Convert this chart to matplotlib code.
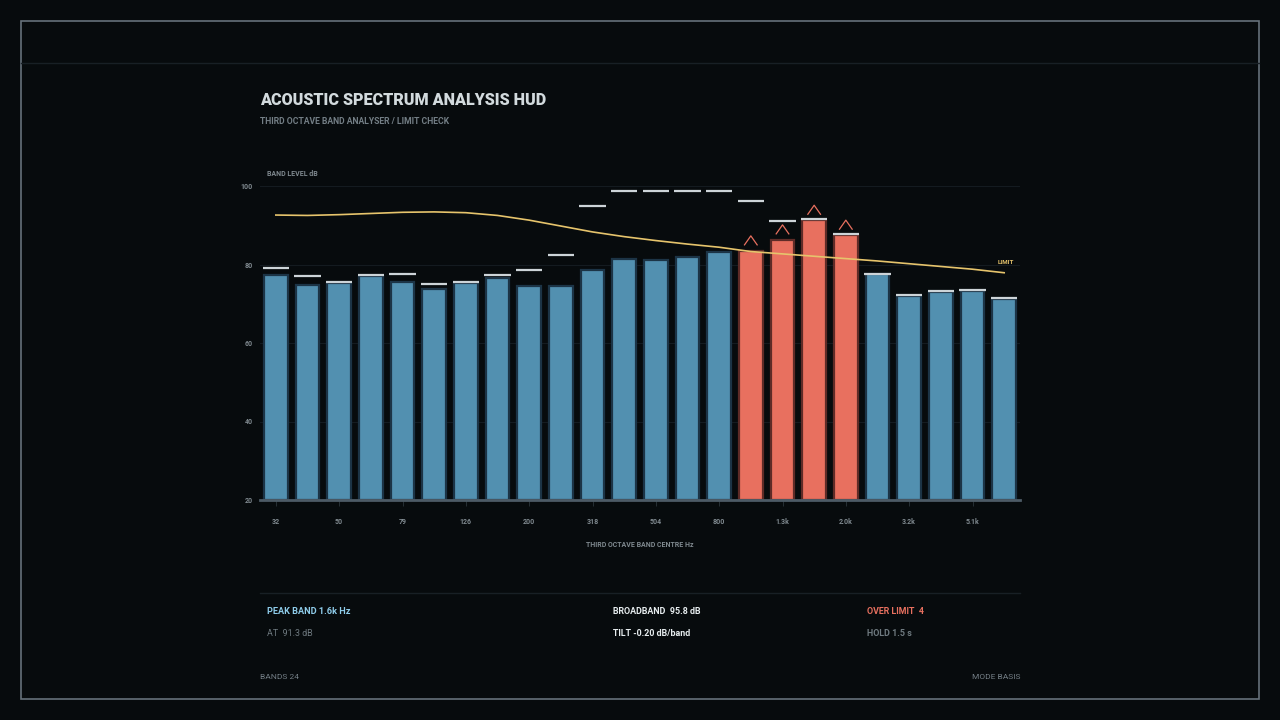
import numpy as np
import matplotlib.pyplot as plt
from matplotlib.patches import Rectangle
from matplotlib.lines import Line2D

# third octave bands
bands = ["32", "40", "50", "63", "79", "100", "126", "159", "200", "252", "318", "400",
         "504", "635", "800", "1.0k", "1.3k", "1.6k", "2.0k", "2.5k", "3.2k", "4.0k", "5.1k", "6.4k"]
levels = [77.2, 74.7, 75.3, 77.0, 75.6, 73.7, 75.4, 76.5, 74.5, 74.5, 78.6, 81.3,
          81.2, 81.8, 83.1, 83.5, 86.3, 91.3, 87.5, 77.5, 72.1, 73.0, 73.3, 71.1]
holds = [79.1, 77.0, 75.6, 77.3, 77.6, 75.0, 75.6, 77.3, 78.7, 82.5, 95.0, 98.8,
         98.8, 98.8, 98.8, 96.2, 91.2, 91.5, 87.8, 77.7, 72.3, 73.2, 73.5, 71.4]
limit = [92.6, 92.5, 92.7, 93.0, 93.3, 93.4, 93.2, 92.5, 91.3, 89.8, 88.3, 87.1,
         86.1, 85.2, 84.4, 83.3, 82.7, 82.1, 81.5, 80.9, 80.2, 79.5, 78.8, 77.9]
y_ticks = [20, 40, 60, 80, 100]

BG = "#070b0d"
BLUE = "#5290b0"
BLUE_EDGE = "#1c3446"
RED = "#e8705f"
RED_EDGE = "#5e2b27"
GOLD = "#e6c46c"
GRAY = "#808a90"
LIGHT = "#d2dadd"
FONT = ["Roboto", "DejaVu Sans"]

W, H = 1280, 720
fig = plt.figure(figsize=(12.8, 7.2), dpi=100, facecolor=BG)


def px(x, y):
    return x / W, 1 - y / H


def label(x, y, s, size=6, color=GRAY, ha="left", weight="bold"):
    fig.text(*px(x, y), s, fontsize=size, color=color, ha=ha, va="center",
             fontweight=weight, family=FONT)


# outer HUD frame
fig.add_artist(Rectangle(px(21, 699), 1238 / W, 678 / H, transform=fig.transFigure,
                         fill=False, edgecolor="#65717a", lw=1.2))
fig.add_artist(Line2D([21 / W, 1259 / W], [1 - 63 / H] * 2, transform=fig.transFigure,
                      color="#182025", lw=1))
fig.add_artist(Line2D([260 / W, 1020 / W], [1 - 593 / H] * 2, transform=fig.transFigure,
                      color="#182025", lw=1))

ax = fig.add_axes([260 / W, 220 / H, 760 / W, 314 / H])
ax.set_facecolor(BG)

x = np.arange(len(bands))
over = [lv > lm for lv, lm in zip(levels, limit)]
colors = [RED if o else BLUE for o in over]
edges = [RED_EDGE if o else BLUE_EDGE for o in over]

ax.bar(x, [lv - 20 for lv in levels], bottom=20, width=0.74, color=colors,
       edgecolor=edges, linewidth=1.6, zorder=2)
ax.hlines(holds, x - 0.42, x + 0.42, color="#cdd4d8", lw=1.6, zorder=3)
ax.plot(x, limit, color=GOLD, lw=1.2, zorder=4)
ax.text(x[-1] - 0.2, limit[-1] + 2.6, "LIMIT", color=GOLD, fontsize=4.5,
        fontweight="bold", family=FONT, ha="left", va="center")

# over-limit markers
for i in x[np.array(over)]:
    t = levels[i]
    ax.plot([i - 0.2, i, i + 0.2], [t + 1.5, t + 3.8, t + 1.5], color=RED, lw=0.9, zorder=4)

ax.set_xlim(-0.5, 23.5)
ax.set_ylim(20, 100)
ax.set_yticks(y_ticks)
ax.set_yticklabels([str(v) for v in y_ticks])
ax.set_xticks(x[::2])
ax.set_xticklabels(bands[::2])
for v in y_ticks[1:]:
    ax.axhline(v, color="#141b20", lw=0.8, zorder=1)

for s in ["top", "right", "left"]:
    ax.spines[s].set_visible(False)
ax.spines["bottom"].set_color("#4d5b66")
ax.spines["bottom"].set_linewidth(2)
ax.tick_params(axis="y", length=0, pad=5, labelsize=5, labelcolor=GRAY)
ax.tick_params(axis="x", length=4, width=0.6, color="#2c353b", pad=9,
               labelsize=5, labelcolor=GRAY)
for t in ax.get_xticklabels() + ax.get_yticklabels():
    t.set_family(FONT)
    t.set_fontweight("bold")

# titles and readouts
label(260, 100, "ACOUSTIC SPECTRUM ANALYSIS HUD", size=11.6, color=LIGHT, weight="heavy")
label(260, 121, "THIRD OCTAVE BAND ANALYSER / LIMIT CHECK", size=6.2, color="#737e85")
label(267, 174, "BAND LEVEL dB", size=5, color=GRAY)
label(640, 545, "THIRD OCTAVE BAND CENTRE Hz", size=5, color=GRAY, ha="center")

label(267, 612, "PEAK BAND 1.6k Hz", size=6.6, color="#8fcdeb")
label(267, 634, "AT  91.3 dB", size=6.4, color="#6f7a80", weight="normal")
label(613, 612, "BROADBAND  95.8 dB", size=6.4, color="#e6ecee")
label(613, 634, "TILT -0.20 dB/band", size=6.4, color="#e6ecee")
label(867, 612, "OVER LIMIT  4", size=6.4, color=RED)
label(867, 634, "HOLD 1.5 s", size=6.4, color="#6f7a80")
label(260, 677, "BANDS 24", size=6, color="#737e85", weight="normal")
label(1020, 677, "MODE BASIS", size=6, color="#737e85", ha="right", weight="normal")

fig.savefig("out.png", dpi=100, facecolor=BG)
